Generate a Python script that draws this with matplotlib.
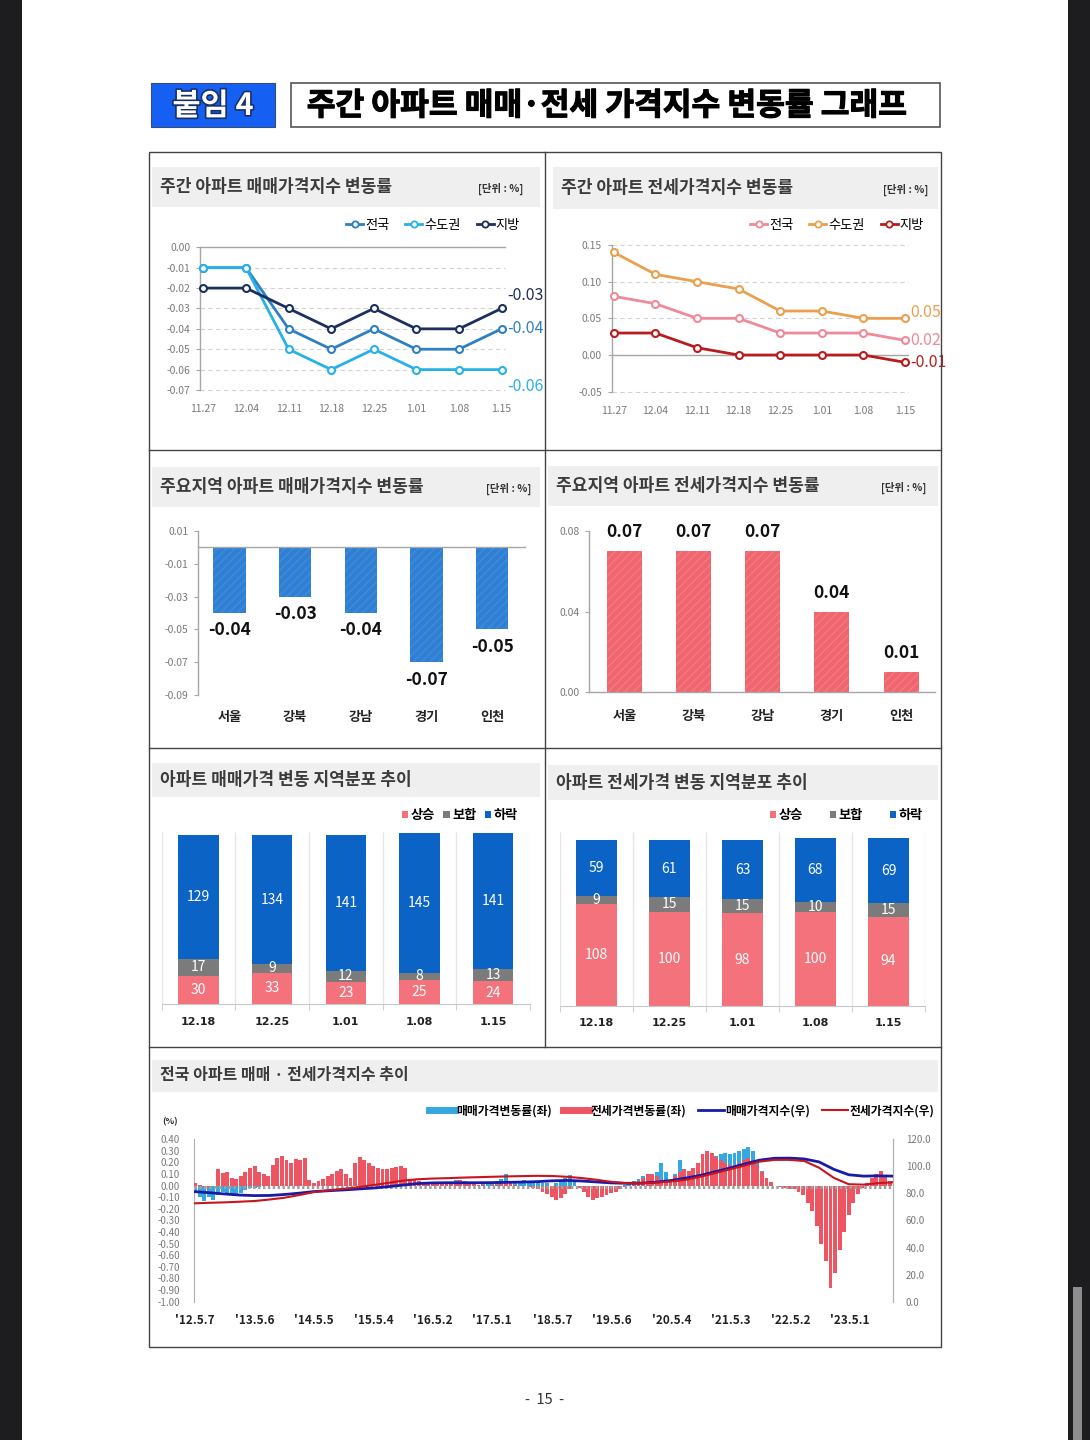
import numpy as np
import matplotlib
matplotlib.use('Agg')
import matplotlib.pyplot as plt
from matplotlib.patches import Rectangle, Patch
from matplotlib.lines import Line2D
from matplotlib.ticker import FormatStrFormatter
import matplotlib.patheffects as pe

plt.rcParams['font.family'] = ['Noto Sans CJK KR', 'DejaVu Sans']
plt.rcParams['axes.unicode_minus'] = False
plt.rcParams['hatch.linewidth'] = 1.0

# ------------------------------------------------------------------ data
weeks = ['11.27', '12.04', '12.11', '12.18', '12.25', '1.01', '1.08', '1.15']
sale_nat = [-0.01, -0.01, -0.04, -0.05, -0.04, -0.05, -0.05, -0.04]
sale_cap = [-0.01, -0.01, -0.05, -0.06, -0.05, -0.06, -0.06, -0.06]
sale_reg = [-0.02, -0.02, -0.03, -0.04, -0.03, -0.04, -0.04, -0.03]
jeon_nat = [0.08, 0.07, 0.05, 0.05, 0.03, 0.03, 0.03, 0.02]
jeon_cap = [0.14, 0.11, 0.10, 0.09, 0.06, 0.06, 0.05, 0.05]
jeon_reg = [0.03, 0.03, 0.01, 0.00, 0.00, 0.00, 0.00, -0.01]
series_names = ['전국', '수도권', '지방']

regions = ['서울', '강북', '강남', '경기', '인천']
region_sale = [-0.04, -0.03, -0.04, -0.07, -0.05]
region_jeon = [0.07, 0.07, 0.07, 0.04, 0.01]

dist_weeks = ['12.18', '12.25', '1.01', '1.08', '1.15']
dist_names = ['상승', '보합', '하락']
sale_up = [30, 33, 23, 25, 24]
sale_flat = [17, 9, 12, 8, 13]
sale_down = [129, 134, 141, 145, 141]
jeon_up = [108, 100, 98, 100, 94]
jeon_flat = [9, 15, 15, 10, 15]
jeon_down = [59, 61, 63, 68, 69]

# long-run chart: weeks counted from 2012-05-07, one reading every 4 weeks
rate_weeks = list(range(0, 609, 4))
sale_rate = [
    -0.05, -0.10, -0.13, -0.10, -0.12, -0.08, -0.05, -0.06, -0.07, -0.08, -0.06, -0.04, -0.02,
    -0.02, -0.01, 0.00, 0.01, 0.02, 0.03, 0.04, 0.03, 0.03, 0.04, 0.05, 0.05, 0.03,
    0.02, 0.02, 0.02, 0.03, 0.06, 0.08, 0.07, 0.05, 0.05, 0.08, 0.10, 0.10, 0.09,
    0.08, 0.08, 0.09, 0.10, 0.10, 0.10, 0.08, 0.05, 0.02, 0.00, 0.00, 0.01, 0.01,
    0.01, 0.02, 0.02, 0.03, 0.03, 0.05, 0.05, 0.04, 0.03, 0.02, 0.01, 0.02, 0.02,
    0.02, 0.04, 0.06, 0.10, 0.03, 0.02, 0.04, 0.05, 0.03, 0.02, 0.03, 0.02, 0.02,
    0.00, 0.02, 0.05, 0.07, 0.09, 0.05, 0.00, -0.05, -0.07, -0.09, -0.10, -0.08, -0.06,
    -0.05, -0.03, -0.01, 0.01, 0.02, 0.04, 0.06, 0.08, 0.10, 0.10, 0.12, 0.20, 0.12,
    0.05, 0.10, 0.22, 0.12, 0.10, 0.15, 0.20, 0.25, 0.26, 0.25, 0.26, 0.27, 0.28,
    0.27, 0.28, 0.30, 0.32, 0.33, 0.30, 0.22, 0.13, 0.06, 0.02, 0.00, 0.00, -0.01,
    -0.02, -0.03, -0.05, -0.08, -0.12, -0.20, -0.30, -0.45, -0.60, -0.72, -0.65, -0.45, -0.30,
    -0.20, -0.10, -0.05, -0.01, 0.02, 0.05, 0.08, 0.07, 0.04, 0.01]
jeon_rate = [
    0.02, 0.01, -0.01, -0.02, 0.00, 0.14, 0.11, 0.12, 0.07, 0.06, 0.08, 0.12, 0.15,
    0.17, 0.12, 0.10, 0.08, 0.18, 0.24, 0.26, 0.22, 0.20, 0.23, 0.22, 0.24, 0.05,
    0.02, 0.04, 0.06, 0.08, 0.10, 0.13, 0.14, 0.10, 0.07, 0.20, 0.25, 0.22, 0.20,
    0.17, 0.15, 0.14, 0.14, 0.15, 0.16, 0.17, 0.15, 0.06, 0.05, 0.04, 0.03, 0.03,
    0.02, 0.03, 0.03, 0.02, 0.03, 0.04, 0.05, 0.03, 0.02, 0.02, 0.01, 0.01, 0.00,
    0.01, 0.01, 0.02, 0.02, 0.02, 0.01, 0.00, 0.00, -0.01, -0.02, -0.03, -0.05, -0.07,
    -0.10, -0.12, -0.11, -0.07, -0.03, 0.00, -0.02, -0.05, -0.10, -0.12, -0.11, -0.10, -0.08,
    -0.06, -0.05, -0.03, -0.01, 0.00, 0.02, 0.04, 0.07, 0.10, 0.10, 0.08, 0.05, 0.03,
    0.04, 0.08, 0.12, 0.14, 0.13, 0.15, 0.20, 0.27, 0.30, 0.28, 0.25, 0.22, 0.20,
    0.18, 0.18, 0.20, 0.22, 0.24, 0.22, 0.18, 0.12, 0.07, 0.03, 0.00, -0.01, -0.02,
    -0.03, -0.03, -0.05, -0.08, -0.15, -0.22, -0.35, -0.50, -0.65, -0.88, -0.75, -0.55, -0.40,
    -0.25, -0.15, -0.07, -0.02, 0.02, 0.07, 0.10, 0.13, 0.08, 0.04]
# index readings every 13 weeks
idx_weeks = list(range(0, 599, 13)) + [610]
sale_index = [81.3, 80.5, 79.6, 78.8, 78.4, 78.5, 79.2, 80.2, 81.4, 82.0, 82.6, 83.3,
              84.0, 85.0, 86.2, 87.3, 87.8, 87.9, 87.9, 87.9, 88.0, 88.2, 88.4, 88.7,
              89.3, 89.6, 89.2, 88.5, 87.8, 87.5, 87.6, 88.3, 89.5, 91.3, 93.3, 96.0,
              98.8, 101.8, 104.6, 106.0, 106.1, 105.5, 103.3, 97.8, 93.8, 92.8, 93.0, 92.8]
jeon_index = [72.7, 73.1, 73.4, 73.9, 74.4, 75.5, 76.8, 78.8, 81.0, 82.3, 83.4, 84.6,
              86.2, 87.8, 89.5, 90.5, 91.0, 91.3, 91.7, 92.0, 92.3, 92.6, 92.8, 93.0,
              92.9, 92.3, 91.4, 90.1, 88.6, 87.6, 87.5, 88.0, 88.8, 90.0, 92.3, 95.0,
              97.8, 100.6, 103.5, 104.8, 104.8, 104.0, 99.0, 91.5, 86.8, 86.5, 87.6, 88.2]
long_ticks = [0, 52, 104, 156, 208, 260, 313, 365, 417, 469, 521, 573]
long_labels = ["'12.5.7", "'13.5.6", "'14.5.5", "'15.5.4", "'16.5.2", "'17.5.1",
               "'18.5.7", "'19.5.6", "'20.5.4", "'21.5.3", "'22.5.2", "'23.5.1"]
long_names = ['매매가격변동률(좌)', '전세가격변동률(좌)', '매매가격지수(우)', '전세가격지수(우)']

# ------------------------------------------------------------------ figure helpers
W, H = 1090, 1440
fig = plt.figure(figsize=(W / 100, H / 100), dpi=100, facecolor='#1d1d1f')


def px_ax(x0, y0, x1, y1):
    a = fig.add_axes([x0 / W, 1 - y1 / H, (x1 - x0) / W, (y1 - y0) / H])
    a.set_facecolor('none')
    return a


def rect(x0, y0, x1, y1, **kw):
    fig.add_artist(Rectangle((x0 / W, 1 - y1 / H), (x1 - x0) / W, (y1 - y0) / H,
                             transform=fig.transFigure, **kw))


def fline(x0, y0, x1, y1, **kw):
    fig.add_artist(Line2D([x0 / W, x1 / W], [1 - y0 / H, 1 - y1 / H],
                          transform=fig.transFigure, **kw))


def T(x, y, s, **kw):
    return fig.text(x / W, 1 - y / H, s, **kw)


def fpos(x, y):
    return (x / W, 1 - y / H)


def ticks(a, b, step):
    return np.round(np.arange(a, b + step / 2, step), 2) + 0.0


GRAY_TXT = '#7a7a7a'
SPINE = '#a6a6a6'

# page
rect(22, -5, 1068, 1445, facecolor='white', edgecolor='none', zorder=-20)
rect(1073, 1287, 1082, 1445, facecolor='#8e8e8e', edgecolor='none', zorder=-19)

# header
rect(151, 83, 275, 127, facecolor='#1560f2', edgecolor='#3a4a7a', lw=0.8, zorder=-5)
T(213, 106, '붙임 4', ha='center', va='center', fontsize=22, fontweight='heavy', color='white',
  path_effects=[pe.withStroke(linewidth=2.4, foreground='#15306a')])
rect(291, 83, 940, 127, facecolor='white', edgecolor='#555555', lw=1.2, zorder=-5)
T(607, 106, '주간 아파트 매매·전세 가격지수 변동률 그래프', ha='center', va='center',
  fontsize=22.5, fontweight='heavy', color='#000000',
  path_effects=[pe.withStroke(linewidth=0.8, foreground='#000000')])

# frame
rect(149, 152, 941, 1347, facecolor='none', edgecolor='#444444', lw=1.0, zorder=10)
fline(545, 152, 545, 1047, color='#444444', lw=1.0, zorder=10)
for yy in (450, 748, 1047):
    fline(149, yy, 941, yy, color='#444444', lw=1.0, zorder=10)

# title bands
bands = [
    (152, 167, 540, 207, '주간 아파트 매매가격지수 변동률', '[단위 : %]', 523),
    (553, 167, 938, 209, '주간 아파트 전세가격지수 변동률', '[단위 : %]', 928),
    (152, 467, 540, 507, '주요지역 아파트 매매가격지수 변동률', '[단위 : %]', 531),
    (548, 466, 938, 506, '주요지역 아파트 전세가격지수 변동률', '[단위 : %]', 926),
    (152, 763, 540, 797, '아파트 매매가격 변동 지역분포 추이', None, None),
    (548, 765, 938, 800, '아파트 전세가격 변동 지역분포 추이', None, None),
]
for x0, y0, x1, y1, title, unit, ux in bands:
    rect(x0, y0, x1, y1, facecolor='#efefef', edgecolor='none', zorder=-5)
    T(x0 + 8, (y0 + y1) / 2, title, ha='left', va='center', fontsize=12.3,
      fontweight='bold', color='#3c3c3c')
    if unit:
        T(ux, (y0 + y1) / 2 + 2, unit, ha='right', va='center', fontsize=7.5,
          fontweight='bold', color='#333333')
rect(152, 1060, 938, 1092, facecolor='#efefef', edgecolor='none', zorder=-5)
T(160, 1075, '전국 아파트 매매 · 전세가격지수 추이', ha='left', va='center', fontsize=11.5,
  fontweight='bold', color='#3c3c3c')


def base_style(ax):
    for s in ('top', 'right', 'bottom'):
        ax.spines[s].set_visible(False)
    ax.spines['left'].set_color(SPINE)
    ax.spines['left'].set_linewidth(1.0)


# ------------------------------------------------------------------ panels 1-2
def line_panel(box, ylim, yticks, data, colors, ends, leg_right, xr):
    ax = px_ax(*box)
    x = np.arange(len(weeks))
    ax.set_xlim(*xr)
    ax.set_ylim(*ylim)
    for v in yticks:
        if abs(v) < 1e-9:
            ax.axhline(0, color='#a6a6a6', lw=1.0, zorder=1, clip_on=False)
        else:
            ax.axhline(v, color='#d2d2d2', lw=0.8, ls=(0, (4, 3)), zorder=0, clip_on=False)
    for vals, c in zip(data, colors):
        ax.plot(x, vals, color=c, lw=2.0, marker='o', ms=5, mfc='white', mec=c, mew=1.5,
                zorder=3, clip_on=False)
    base_style(ax)
    ax.set_yticks(yticks)
    ax.yaxis.set_major_formatter(FormatStrFormatter('%.2f'))
    ax.tick_params(axis='y', length=3, color=SPINE, labelsize=7.5, labelcolor=GRAY_TXT, pad=4)
    ax.set_xticks(x, weeks)
    ax.tick_params(axis='x', length=0, labelsize=7.5, labelcolor=GRAY_TXT, pad=10)
    for vals, c, (dy, txt) in zip(data, colors, ends):
        ax.annotate(txt, xy=(x[-1], vals[-1]), xytext=(4, dy), textcoords='offset points',
                    ha='left', va='center', fontsize=11.5, color=c, annotation_clip=False)
    handles = [Line2D([0], [0], color=c, lw=2, marker='o', ms=4.5, mfc='white', mec=c, mew=1.3)
               for c in colors]
    ax.legend(handles, series_names, loc='center right', bbox_to_anchor=fpos(*leg_right),
              bbox_transform=fig.transFigure, ncol=3, frameon=False, fontsize=9.5,
              handlelength=1.3, handletextpad=0.15, columnspacing=1.2, borderpad=0,
              borderaxespad=0)
    return ax


c_sale = ['#2f80c0', '#27b1e6', '#1c2f5e']
line_panel((200, 247.3, 505, 390), (-0.07, 0.0), ticks(-0.07, 0.0, 0.01),
           [sale_nat, sale_cap, sale_reg], c_sale,
           [(0, '-0.04'), (-12, '-0.06'), (9.5, '-0.03')], (520, 225), (-0.08, 7.08))

c_jeon = ['#ee8a99', '#e9a04f', '#b81c1c']
line_panel((611.7, 245, 908, 391.7), (-0.05, 0.15), ticks(-0.05, 0.15, 0.05),
           [jeon_nat, jeon_cap, jeon_reg], c_jeon,
           [(0, '0.02'), (4, '0.05'), (0, '-0.01')], (924, 225), (-0.05, 7.07))


# ------------------------------------------------------------------ panels 3-4
def bar_panel(box, xr, ylim, yticks, vals, color, hatchc, width, lbl_dy, cat_pad):
    ax = px_ax(*box)
    x = np.arange(len(regions))
    ax.set_xlim(*xr)
    ax.set_ylim(*ylim)
    ax.bar(x, vals, width=width, color=color, edgecolor=hatchc, hatch='////', lw=0, zorder=2)
    ax.axhline(0, color='#a6a6a6', lw=1.0, zorder=3, clip_on=False)
    base_style(ax)
    ax.set_yticks(yticks)
    ax.yaxis.set_major_formatter(FormatStrFormatter('%.2f'))
    ax.tick_params(axis='y', length=3, color=SPINE, labelsize=7.5, labelcolor=GRAY_TXT, pad=4)
    ax.set_xticks(x, regions)
    ax.tick_params(axis='x', length=0, labelsize=9.5, labelcolor='#222222', pad=cat_pad)
    for lab in ax.get_xticklabels():
        lab.set_fontweight('bold')
    for xi, v in zip(x, vals):
        ax.annotate(f'{v:.2f}', xy=(xi, v), xytext=(0, lbl_dy if v >= 0 else -lbl_dy),
                    textcoords='offset points', ha='center', va='center', fontsize=12.5,
                    fontweight='bold', color='#111111', annotation_clip=False)
    return ax


bar_panel((198, 531, 525, 695), (-0.48, 4.5), (-0.09, 0.01),
          [0.01, -0.01, -0.03, -0.05, -0.07, -0.09], region_sale, '#2f80d5', '#3f8bda',
          0.49, 12.5, 11)
bar_panel((589.3, 531, 935, 692.3), (-0.506, 4.49), (0.0, 0.08),
          [0.0, 0.04, 0.08], region_jeon, '#f0656e', '#f27a82', 0.506, 13.5, 12)


# ------------------------------------------------------------------ panels 5-6
dist_colors = ['#f4727b', '#7b7b7b', '#0b63c5']


def dist_panel(box, xr, ymax, up, flat, down, leg_right, colsp):
    ax = px_ax(*box)
    x = np.arange(len(dist_weeks))
    ax.set_xlim(*xr)
    ax.set_ylim(0, ymax)
    ax.vlines(np.arange(-0.5, len(x)), 0, ymax - 2, color='#e6e6e6', lw=1.0, zorder=0)
    b1 = ax.bar(x, up, width=0.55, color=dist_colors[0], zorder=2)
    b2 = ax.bar(x, flat, bottom=up, width=0.55, color=dist_colors[1], zorder=2)
    b3 = ax.bar(x, down, bottom=np.add(up, flat), width=0.55, color=dist_colors[2], zorder=2)
    for b in (b1, b2, b3):
        ax.bar_label(b, label_type='center', color='white', fontsize=10)
    for s in ('top', 'right', 'left'):
        ax.spines[s].set_visible(False)
    ax.spines['bottom'].set_color('#c8c8c8')
    ax.set_yticks([])
    ax.set_xticks(x, dist_weeks)
    ax.set_xticks(np.arange(-0.5, len(x)), minor=True)
    ax.tick_params(axis='x', which='minor', length=4, color='#c8c8c8')
    ax.tick_params(axis='x', which='major', length=0, labelsize=8, labelcolor='#222222', pad=9)
    for lab in ax.get_xticklabels():
        lab.set_fontweight('bold')
        lab.set_family(['DejaVu Sans'])
    handles = [Patch(facecolor=c, edgecolor='none') for c in dist_colors]
    ax.legend(handles, dist_names, loc='center right', bbox_to_anchor=fpos(*leg_right),
              bbox_transform=fig.transFigure, ncol=3, frameon=False,
              handlelength=0.5, handleheight=0.5, handletextpad=0.2, columnspacing=colsp,
              borderpad=0, borderaxespad=0, prop={'weight': 'bold', 'size': 9.5})
    return ax


dist_panel((161.7, 830, 530, 1004.3), (-0.496, 4.498), 181.6, sale_up, sale_flat, sale_down,
           (518, 815), 0.6)
dist_panel((560, 830, 925, 1005.7), (-0.487, 4.49), 186.6, jeon_up, jeon_flat, jeon_down,
           (923, 815), 2.0)

# ------------------------------------------------------------------ panel 7
ax = px_ax(194, 1139.3, 893.3, 1301.7)
ax.set_xlim(-1, 611)
ax.set_ylim(-1.0, 0.4)
ax.bar(rate_weeks, sale_rate, width=3.4, color='#35a8e0', lw=0, zorder=2)
ax.bar(rate_weeks, jeon_rate, width=3.4, color='#ee5562', lw=0, zorder=3)
ax.axhline(-0.012, color='#a0a0a0', lw=2.2, ls=(0, (0.8, 0.8)), zorder=4)
for s in ('top', 'bottom'):
    ax.spines[s].set_visible(False)
ax.spines['left'].set_color('#b0b0b0')
ax.spines['right'].set_color('#b0b0b0')
ax.set_yticks(ticks(-1.0, 0.4, 0.1))
ax.yaxis.set_major_formatter(FormatStrFormatter('%.2f'))
ax.tick_params(axis='y', length=0, labelsize=7, labelcolor=GRAY_TXT, pad=10)
ax.set_xticks(long_ticks, long_labels)
ax.tick_params(axis='x', length=0, labelsize=8.5, labelcolor='#222222', pad=9)
for lab in ax.get_xticklabels():
    lab.set_fontweight('bold')
axr = ax.twinx()
axr.set_ylim(0, 120)
axr.plot(idx_weeks, sale_index, color='#1a1aa8', lw=2.0, zorder=5)
axr.plot(idx_weeks, jeon_index, color='#c8141e', lw=1.5, zorder=6)
for s in ('top', 'bottom', 'left'):
    axr.spines[s].set_visible(False)
axr.spines['right'].set_color('#b0b0b0')
axr.set_yticks(np.arange(0, 121, 20))
axr.yaxis.set_major_formatter(FormatStrFormatter('%.1f'))
axr.tick_params(axis='y', length=0, labelsize=7, labelcolor=GRAY_TXT, pad=9)
T(170, 1122, '(%)', ha='center', va='center', fontsize=6.5, fontweight='bold', color='#333333')
handles = [Line2D([0], [0], color='#35a8e0', lw=5), Line2D([0], [0], color='#ee5562', lw=5),
           Line2D([0], [0], color='#1a1aa8', lw=2), Line2D([0], [0], color='#c8141e', lw=1.5)]
ax.legend(handles, long_names, loc='center right', bbox_to_anchor=fpos(934, 1111),
          bbox_transform=fig.transFigure, ncol=4, frameon=False,
          handlelength=2.2, handletextpad=0.1, columnspacing=1.0, borderpad=0,
          borderaxespad=0, prop={'weight': 'bold', 'size': 8.5})

# page number
T(545, 1400, '-  15  -', ha='center', va='center', fontsize=10.5, color='#333333')

fig.savefig('out.png', dpi=100, facecolor=fig.get_facecolor())
